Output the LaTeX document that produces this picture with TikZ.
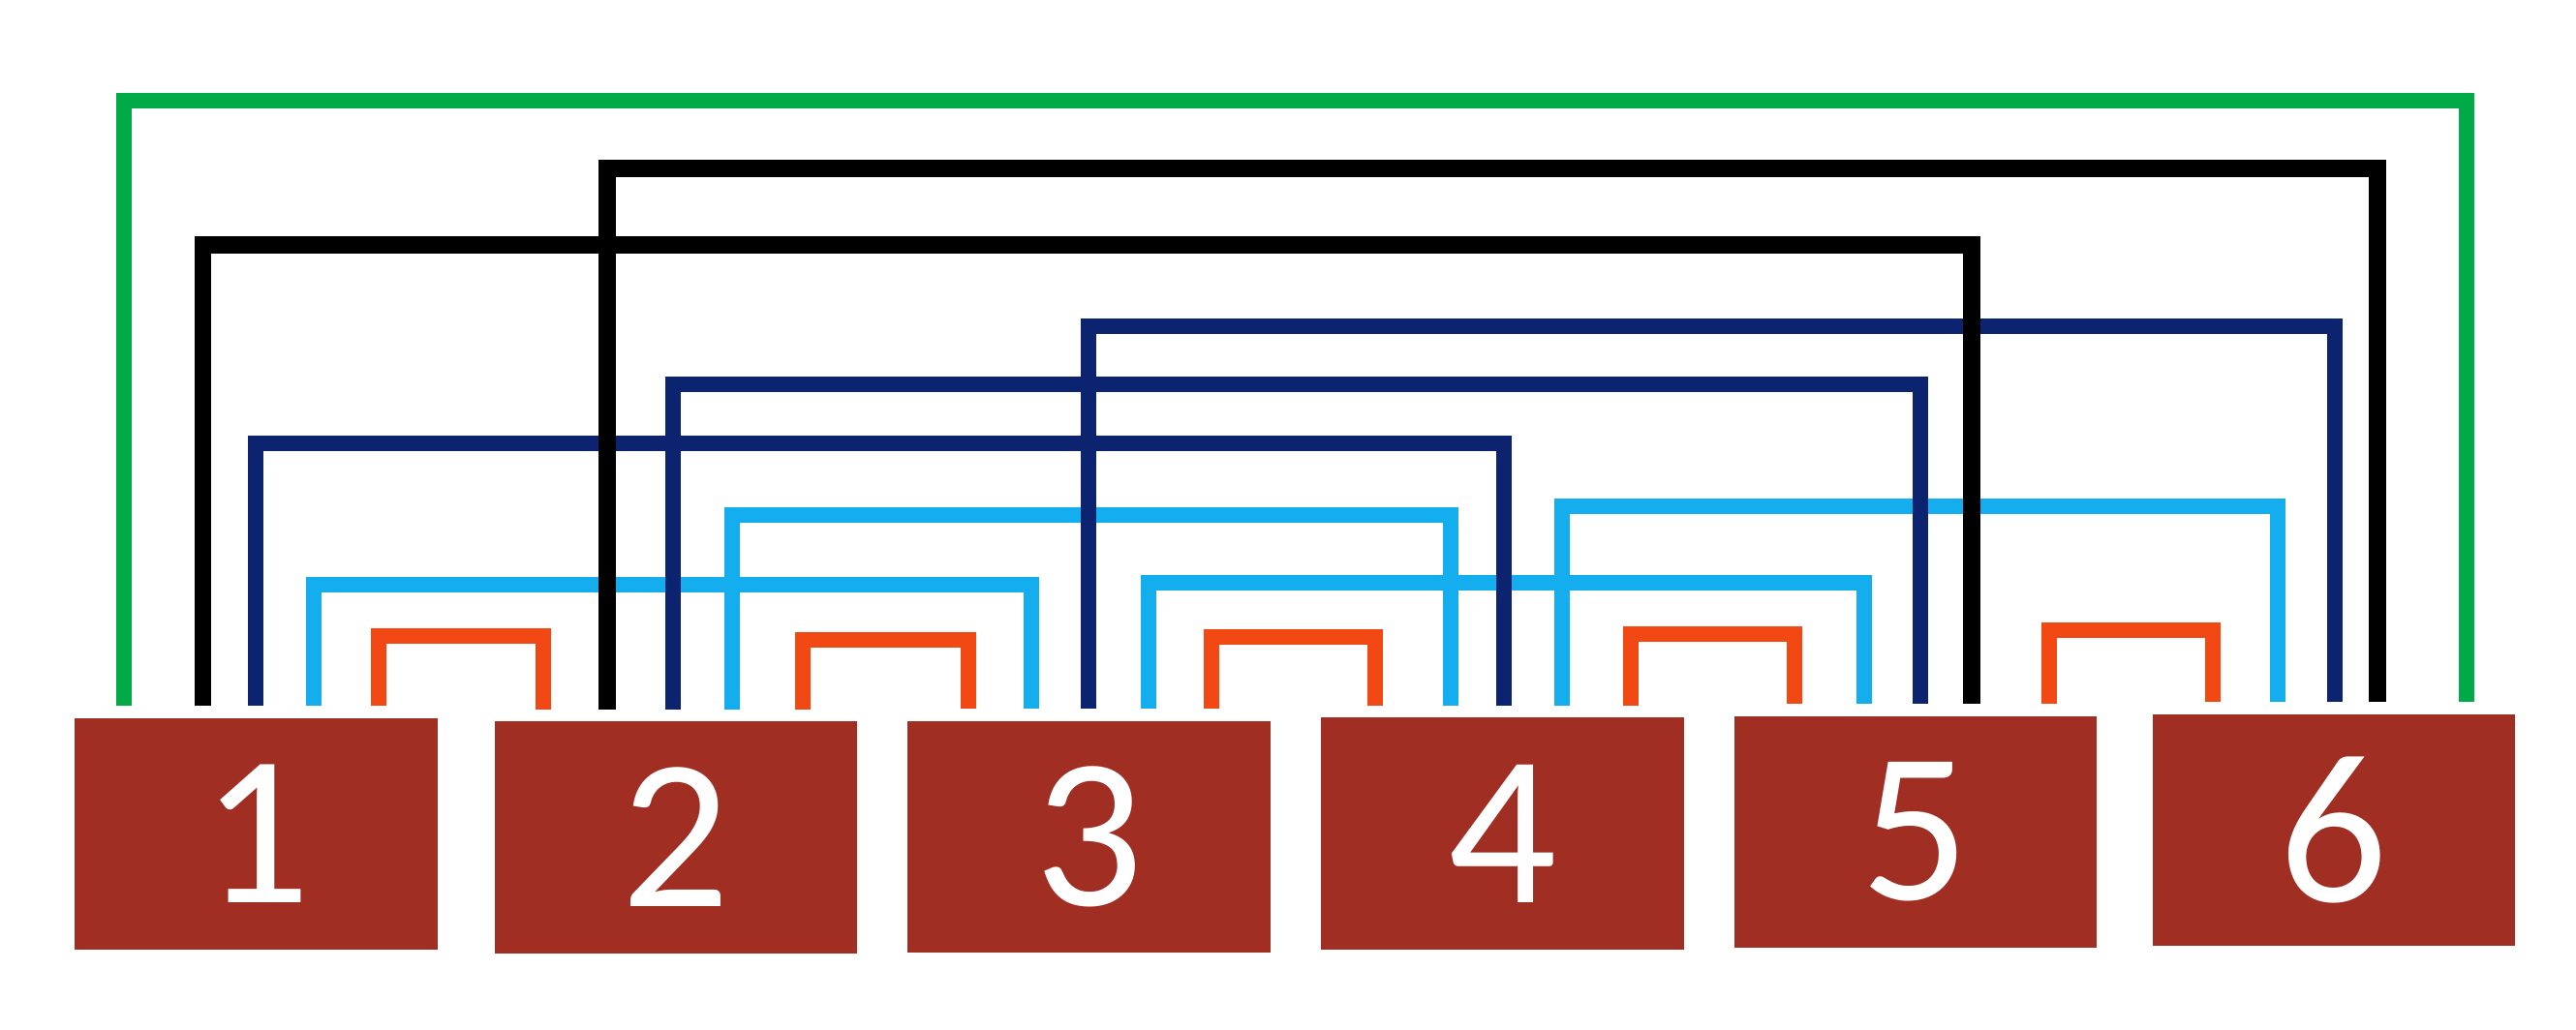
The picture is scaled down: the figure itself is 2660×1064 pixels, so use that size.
\documentclass[tikz,border=0pt]{standalone}
\usepackage{fontspec}
\setmainfont{Carlito}
\usetikzlibrary{calc}
\definecolor{boxred}{RGB}{161,46,34}
\definecolor{linered}{RGB}{242,72,20}
\definecolor{ltblue}{RGB}{20,174,238}
\definecolor{dkblue}{RGB}{12,36,112}
\definecolor{lngreen}{RGB}{0,170,70}
\begin{document}
\begin{tikzpicture}[x=0.01cm,y=-0.01cm,
  box/.style={fill=boxred, draw=none, minimum width=3.74cm, minimum height=2.39cm,
    inner sep=0pt, text=white, font=\fontsize{63}{63}\selectfont},
  link/.style={line width=4.6pt},
  redlink/.style={link, draw=linered},
  lblink/.style={link, draw=ltblue},
  dblink/.style={link, draw=dkblue},
  bklink/.style={link, line width=5pt, draw=black},
  grlink/.style={link, draw=lngreen}]
\useasboundingbox (0,0) rectangle (2660,1064);
\fill[white] (0,0) rectangle (2660,1064);
\node[box] (b1) at (264.5,861.5) {1};
\node[box] (b2) at (698,865) {2};
\node[box] (b3) at (1124.5,864.5) {3};
\node[box] (b4) at (1551.5,861) {4};
\node[box] (b5) at (1978,859.5) {5};
\node[box] (b6) at (2410,857.5) {6};
% red: neighbours
\draw[redlink] ($(b1.north west)+(314,-12)$) |- (476,657) -| ($(b2.north west)+(51,-12)$);
\draw[redlink] ($(b2.north west)+(319,-12)$) |- (915,661) -| ($(b3.north west)+(63,-12)$);
\draw[redlink] ($(b3.north west)+(314,-12)$) |- (1335,658) -| ($(b4.north west)+(56,-12)$);
\draw[redlink] ($(b4.north west)+(320,-12)$) |- (1769,655) -| ($(b5.north west)+(63,-12)$);
\draw[redlink] ($(b5.north west)+(326,-12)$) |- (2200,651) -| ($(b6.north west)+(63,-12)$);
% light blue: distance 2
\draw[lblink] ($(b1.north west)+(247,-12)$) |- (700,604) -| ($(b3.north west)+(128,-12)$);
\draw[lblink] ($(b2.north west)+(246,-12)$) |- (1100,532) -| ($(b4.north west)+(134,-12)$);
\draw[lblink] ($(b3.north west)+(249,-12)$) |- (1550,602) -| ($(b5.north west)+(135,-12)$);
\draw[lblink] ($(b4.north west)+(249,-12)$) |- (2000,523) -| ($(b6.north west)+(130,-12)$);
% dark blue: distance 3
\draw[dblink] ($(b1.north west)+(187,-12)$) |- (900,458) -| ($(b4.north west)+(189,-12)$);
\draw[dblink] ($(b2.north west)+(185,-12)$) |- (1300,397) -| ($(b5.north west)+(193,-12)$);
\draw[dblink] ($(b3.north west)+(187,-12)$) |- (1750,337) -| ($(b6.north west)+(189,-12)$);
% black: distance 4
\draw[bklink] ($(b1.north west)+(133,-12)$) |- (1100,253) -| ($(b5.north west)+(246,-12)$);
\draw[bklink] ($(b2.north west)+(117,-12)$) |- (1500,174) -| ($(b6.north west)+(233,-12)$);
% green: distance 5
\draw[grlink] ($(b1.north west)+(51,-12)$) |- (1300,104) -| ($(b6.north west)+(325,-12)$);
\end{tikzpicture}
\end{document}
